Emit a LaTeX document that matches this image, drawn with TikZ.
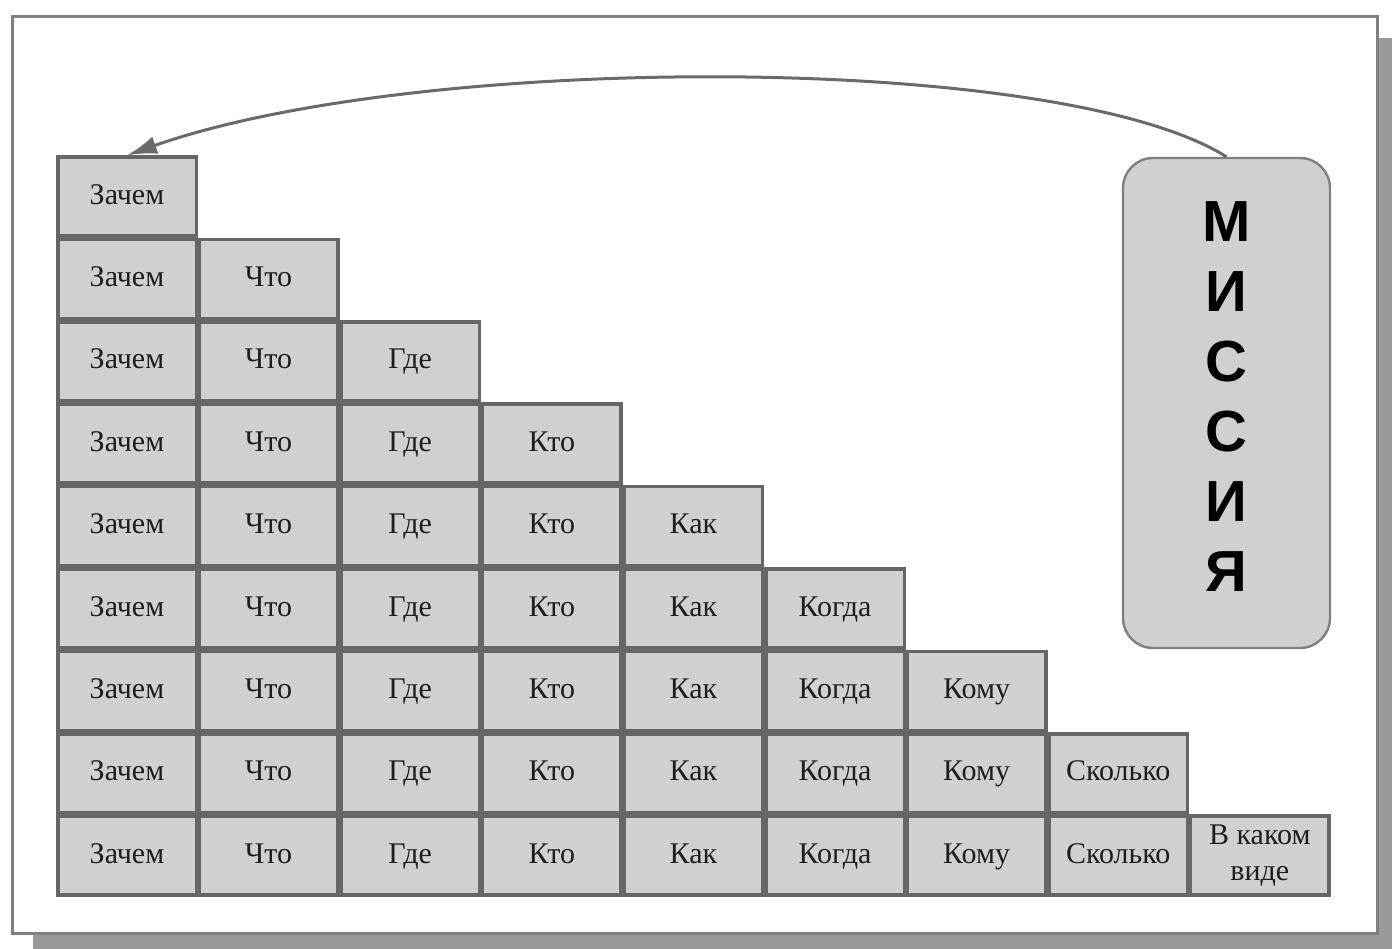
\documentclass[tikz,border=0pt]{standalone}
\usepackage{fontspec}
\setmainfont{Liberation Serif}
\newfontfamily\missionfont{Liberation Sans}
\usetikzlibrary{arrows.meta}
\definecolor{cellfill}{HTML}{D0D0D0}
\definecolor{celldraw}{HTML}{666666}
\definecolor{framegray}{HTML}{808080}
\definecolor{shadowgray}{HTML}{999999}
\definecolor{arrowgray}{HTML}{6A6A6A}
\definecolor{txt}{HTML}{1E1E1E}
\tikzset{
  cellbox/.style={draw=celldraw, fill=cellfill, line width=1.75pt, rectangle,
    minimum width=69.25pt, minimum height=39.5pt, inner sep=0pt, anchor=center,
    font=\fontsize{15}{18}\selectfont, text=txt, align=center},
  oneline/.style={text height=0.95em, text depth=0.2em},
  missionbox/.style={draw=framegray, fill=cellfill, line width=1.2pt, rectangle,
    rounded corners=15pt, minimum width=103.5pt, minimum height=245pt, inner sep=0pt,
    anchor=center},
  missionletters/.style={font=\missionfont\bfseries\fontsize{29}{35}\selectfont,
    align=center, inner sep=0pt, text=black},
  linkarrow/.style={draw=arrowgray, line width=1.5pt,
    -{Latex[length=15pt,width=9pt]}}
}
\begin{document}
\begin{tikzpicture}[x=0.5pt,y=-0.5pt]
\useasboundingbox (0,0) rectangle (1392,948);
\clip (0,0) rectangle (1392,948);
% shadow and frame
\fill[shadowgray] (33,38) rectangle (1400,960);
\draw[framegray, fill=white, line width=1.5pt] (12,16) rectangle (1377,933);
% grid cells
\foreach \j in {1,...,9}{
  \foreach \i in {1,...,\j}{
    \pgfmathsetmacro{\cx}{127+141.6*(\i-1)}
    \pgfmathsetmacro{\cy}{196.5+82.4*(\j-1)}
    \ifnum\i=1 \def\lab{Зачем}\fi
    \ifnum\i=2 \def\lab{Что}\fi
    \ifnum\i=3 \def\lab{Где}\fi
    \ifnum\i=4 \def\lab{Кто}\fi
    \ifnum\i=5 \def\lab{Как}\fi
    \ifnum\i=6 \def\lab{Когда}\fi
    \ifnum\i=7 \def\lab{Кому}\fi
    \ifnum\i=8 \def\lab{Сколько}\fi
    \ifnum\i=9
      \node[cellbox] (c-\j-\i) at (\cx,\cy) {В каком\\виде};
    \else
      \node[cellbox,oneline] (c-\j-\i) at (\cx,\cy) {\lab};
    \fi
  }
}
% mission
\node[missionbox] (mission) at (1226.5,403) {};
\node[missionletters] (missiontext) at (1226.5,397) {М\\И\\С\\С\\И\\Я};
% arrow
\draw[linkarrow] (mission.north) .. controls (1060,52) and (420,52) .. (c-1-1.north);
\end{tikzpicture}
\end{document}
